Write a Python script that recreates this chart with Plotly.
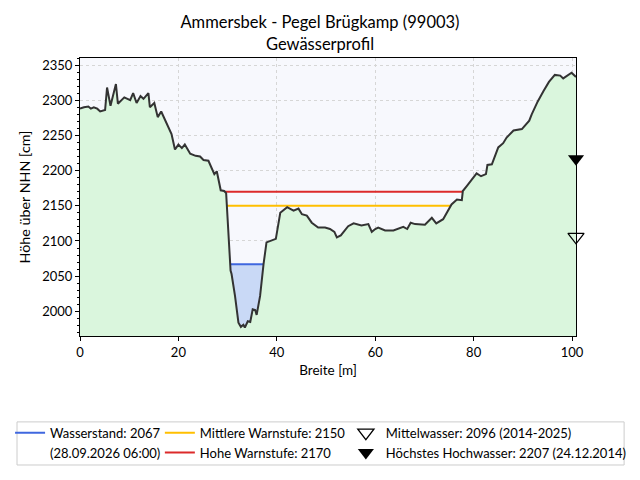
import numpy as np
import plotly.graph_objects as go

breite = [0.0, 0.8, 1.7, 2.2, 2.8, 3.5, 4.1, 5.1, 5.5, 6.2, 7.3, 7.7, 9.0, 10.2, 10.8, 11.5,
          12.3, 12.9, 13.9, 14.2, 15.1, 15.8, 16.5, 17.5, 18.6, 19.3, 20.0, 20.7, 21.3, 22.4,
          23.5, 24.4, 25.1, 26.1, 27.3, 27.8, 28.6, 29.3, 29.7, 30.6, 30.8, 31.5, 32.2, 32.7,
          33.2, 33.5, 34.1, 34.6, 35.1, 35.6, 35.9, 36.6, 36.9, 37.3, 37.9, 39.8, 40.7, 41.3,
          42.1, 43.4, 44.4, 45.1, 46.1, 47.1, 48.4, 49.8, 50.8, 51.7, 52.2, 53.0, 54.5, 55.6,
          57.2, 58.6, 59.3, 60.0, 60.6, 62.0, 63.7, 65.7, 66.5, 67.2, 68.1, 70.1, 71.5, 72.4,
          73.8, 75.5, 76.6, 77.6, 77.8, 78.6, 80.6, 81.5, 82.5, 82.8, 83.7, 85.0, 86.0, 86.7,
          88.1, 89.8, 91.3, 91.8, 93.0, 94.2, 95.3, 96.5, 97.6, 98.2, 99.9, 100.8]
hoehe = [2288, 2290, 2291, 2288, 2290, 2288, 2284, 2286, 2318, 2292, 2323, 2295, 2304, 2300, 2310, 2296,
         2306, 2302, 2310, 2290, 2296, 2276, 2284, 2268, 2252, 2230, 2237, 2232, 2237, 2224,
         2221, 2220, 2215, 2214, 2195, 2199, 2172, 2171, 2168, 2058, 2053, 2022, 1984, 1978,
         1981, 1977, 1986, 1985, 2003, 2002, 1995, 2022, 2045, 2067, 2098, 2103, 2140, 2144,
         2148, 2143, 2146, 2138, 2136, 2126, 2119, 2119, 2117, 2113, 2105, 2108, 2121, 2125,
         2122, 2124, 2113, 2117, 2119, 2115, 2115, 2120, 2117, 2126, 2124, 2123, 2133, 2125,
         2131, 2152, 2159, 2158, 2171, 2178, 2196, 2192, 2195, 2208, 2209, 2233, 2239, 2247,
         2257, 2259, 2271, 2280, 2298, 2313, 2326, 2336, 2335, 2331, 2339, 2333]

wasserstand = 2067
wasserstand_zeit = "28.09.2026 06:00"
mittlere_warnstufe = 2150
hohe_warnstufe = 2170
mittelwasser = 2096
mittelwasser_zeitraum = "2014-2025"
hhw = 2207
hhw_datum = "24.12.2014"

x = np.array(breite, dtype=float)
y = np.array(hoehe, dtype=float)

y_min, y_max = 1965, 2360
m_l, m_r, m_t, m_b = 80, 64, 58, 144
plot_h = 480 - m_t - m_b


def extent(level):
    # Schnittpunkte der Höhe mit dem Profil links/rechts vom tiefsten Punkt
    i0 = int(np.argmin(y))
    l = i0
    while y[l] < level:
        l -= 1
    r = i0
    while y[r] < level:
        r += 1
    xl = np.interp(level, [y[l + 1], y[l]], [x[l + 1], x[l]])
    xr = np.interp(level, [y[r - 1], y[r]], [x[r - 1], x[r]])
    return xl, xr, l, r


fig = go.Figure()

# Wasserfläche
xl, xr, l, r = extent(wasserstand)
fig.add_trace(go.Scatter(
    x=[xl] + list(x[l + 1:r]) + [xr], y=[wasserstand] + list(y[l + 1:r]) + [wasserstand],
    fill='toself', fillcolor='#c9d9f6', mode='none', showlegend=False, hoverinfo='skip'))
fig.add_trace(go.Scatter(
    x=[xl, xr], y=[wasserstand, wasserstand], mode='lines',
    line=dict(color='#3f67df', width=2),
    name=f"Wasserstand: {wasserstand}", legend='legend'))
# zweite Zeile des Legendeneintrags (ohne Symbol)
fig.add_trace(go.Scatter(
    x=[None], y=[None], mode='lines', line=dict(color='rgba(0,0,0,0)', width=0),
    name=f"({wasserstand_zeit})", legend='legend', hoverinfo='skip'))

# Warnstufen
for level, color, label in [(mittlere_warnstufe, '#ffbf00', 'Mittlere Warnstufe'),
                            (hohe_warnstufe, '#dc2a2a', 'Hohe Warnstufe')]:
    a, b, _, _ = extent(level)
    fig.add_trace(go.Scatter(
        x=[a, b], y=[level, level], mode='lines', line=dict(color=color, width=2),
        name=f"{label}: {level}", legend='legend2'))

# Profil
fig.add_trace(go.Scatter(
    x=x, y=y, mode='lines', line=dict(color='#333333', width=2),
    fill='tozeroy', fillcolor='#daf6dd', showlegend=False))

# Marker (Spitze zeigt auf den Wert)
msize = 14
off = msize / 2 * (y_max - y_min) / plot_h
fig.add_trace(go.Scatter(
    x=[x[-1]], y=[mittelwasser + off], mode='markers', cliponaxis=False,
    marker=dict(symbol='triangle-down-open', size=msize, color='black', line=dict(width=1.3)),
    name=f"Mittelwasser: {mittelwasser} ({mittelwasser_zeitraum})", legend='legend3'))
fig.add_trace(go.Scatter(
    x=[x[-1]], y=[hhw + off], mode='markers', cliponaxis=False,
    marker=dict(symbol='triangle-down', size=msize, color='black'),
    name=f"Höchstes Hochwasser: {hhw} ({hhw_datum})", legend='legend3'))

leg = dict(orientation='v', yanchor='top', y=-0.294, xanchor='left', bgcolor='rgba(0,0,0,0)',
           font=dict(size=13, color='black'), tracegroupgap=0)

fig.update_layout(
    width=640, height=480,
    margin=dict(l=m_l, r=m_r, t=m_t, b=m_b, autoexpand=False),
    paper_bgcolor='white', plot_bgcolor='#f7f8fd',
    font=dict(family='Lato, Carlito, sans-serif', size=13, color='black'),
    title=dict(text="Ammersbek - Pegel Brügkamp (99003)<br>Gewässerprofil",
               x=0.5, xanchor='center', y=0.941, yanchor='top', font=dict(size=16.5)),
    legend=dict(leg, x=-0.141),
    legend2=dict(leg, x=0.161),
    legend3=dict(leg, x=0.536),
    shapes=[dict(type='rect', xref='paper', yref='paper', x0=-0.127, x1=1.097,
                 y0=-0.309, y1=-0.464, line=dict(color='#cccccc', width=1), layer='below')],
)
fig.update_xaxes(
    range=[x[0], x[-1]], dtick=20,
    title=dict(text='Breite [m]', standoff=6, font=dict(size=13.5)),
    showline=True, mirror=True, linecolor='black', linewidth=1.2,
    ticks='outside', ticklen=4, tickcolor='black',
    showgrid=True, gridcolor='#d6d6d6', griddash='dot', gridwidth=1, zeroline=False)
fig.update_yaxes(
    range=[y_min, y_max], dtick=50,
    title=dict(text='Höhe über NHN [cm]', standoff=8, font=dict(size=14.3)),
    showline=True, mirror=True, linecolor='black', linewidth=1.2,
    ticks='outside', ticklen=4, tickcolor='black',
    minor=dict(dtick=10, ticks='outside', ticklen=2, tickcolor='black', showgrid=False),
    showgrid=True, gridcolor='#d6d6d6', griddash='dot', gridwidth=1, zeroline=False)

fig.write_html("out.html", config={'displayModeBar': False},
               post_script="document.body.style.margin='0';")
